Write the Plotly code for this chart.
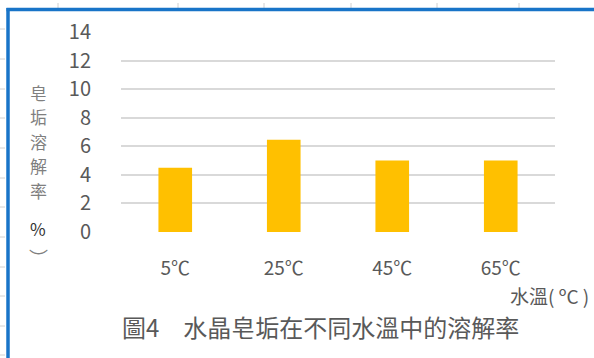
import plotly.graph_objects as go

# Data
categories = ["5℃", "25℃", "45℃", "65℃"]
solubility = [4.5, 6.45, 5.0, 5.0]
y_ticks = [0, 2, 4, 6, 8, 10, 12, 14]
ytitle_chars = ["皂", "垢", "溶", "解", "率"]

W, H = 594, 358
L, R, T, B = 121, 39, 32, 126
PW, PH = W - L - R, H - T - B

def px(x):
    return (x - L) / PW

def py(y):
    return (H - B - y) / PH

FONT = "Noto Sans CJK TC"

fig = go.Figure(go.Bar(
    x=categories, y=solubility,
    marker=dict(color="#FFC000", line=dict(width=0)),
    width=0.31,
))

fig.update_layout(
    width=W, height=H,
    margin=dict(l=L, r=R, t=T, b=B),
    paper_bgcolor="white", plot_bgcolor="white",
    showlegend=False,
    font=dict(family=FONT, color="#595959"),
    xaxis=dict(showgrid=False, showline=False, ticks="",
               tickfont=dict(size=19, color="#595959"),
               ticklabelstandoff=23),
    yaxis=dict(range=[0, 14], tickvals=y_ticks, showgrid=True,
               gridcolor="#d9d9d9", gridwidth=1.5, zeroline=False,
               showline=False, ticks="",
               tickfont=dict(size=20, color="#595959"),
               ticklabelstandoff=29),
)

annotations = []
# vertical axis title: one character per row
for i, ch in enumerate(ytitle_chars):
    annotations.append(dict(
        x=px(38), y=py(92 + 24.6 * i), xref="paper", yref="paper", text=ch,
        showarrow=False, xanchor="center", yanchor="middle",
        font=dict(family=FONT, size=17, color="#7f7f7f")))
annotations += [
    dict(x=px(38), y=py(228), xref="paper", yref="paper", text="%",
         showarrow=False, xanchor="center", yanchor="middle",
         font=dict(family=FONT, size=17, color="#333333")),
    dict(x=px(38), y=py(257), xref="paper", yref="paper", text="︶",
         showarrow=False, xanchor="center", yanchor="middle",
         font=dict(family=FONT, size=19, color="#7f7f7f")),
    dict(x=px(549), y=py(295), xref="paper", yref="paper", text="水溫( ºC )",
         showarrow=False, xanchor="center", yanchor="middle",
         font=dict(family=FONT, size=19, color="#595959")),
    dict(x=px(320), y=py(326), xref="paper", yref="paper",
         text="圖4　水晶皂垢在不同水溫中的溶解率",
         showarrow=False, xanchor="center", yanchor="middle",
         font=dict(family=FONT, size=24, color="#595959")),
]
fig.update_layout(annotations=annotations)

shapes = []
# faint sheet ruler ticks
for yy in [29, 59, 89, 118, 148, 178, 207, 237, 267, 296, 326, 355]:
    shapes.append(dict(type="line", xref="paper", yref="paper",
                       x0=px(0), x1=px(5), y0=py(yy), y1=py(yy),
                       line=dict(color="#d0d0d0", width=1)))
for xx in [58, 178, 264, 351, 437, 519]:
    shapes.append(dict(type="line", xref="paper", yref="paper",
                       x0=px(xx), x1=px(xx), y0=py(3), y1=py(8),
                       line=dict(color="#d0d0d0", width=1)))
# selection frame
shapes.append(dict(type="line", xref="paper", yref="paper",
                   x0=px(6.5), x1=px(W), y0=py(9.5), y1=py(9.5),
                   line=dict(color="#1874C8", width=3.5)))
shapes.append(dict(type="line", xref="paper", yref="paper",
                   x0=px(8), x1=px(8), y0=py(8), y1=py(H),
                   line=dict(color="#1874C8", width=3.5)))
fig.update_layout(shapes=shapes)

fig.write_html("out.html")
